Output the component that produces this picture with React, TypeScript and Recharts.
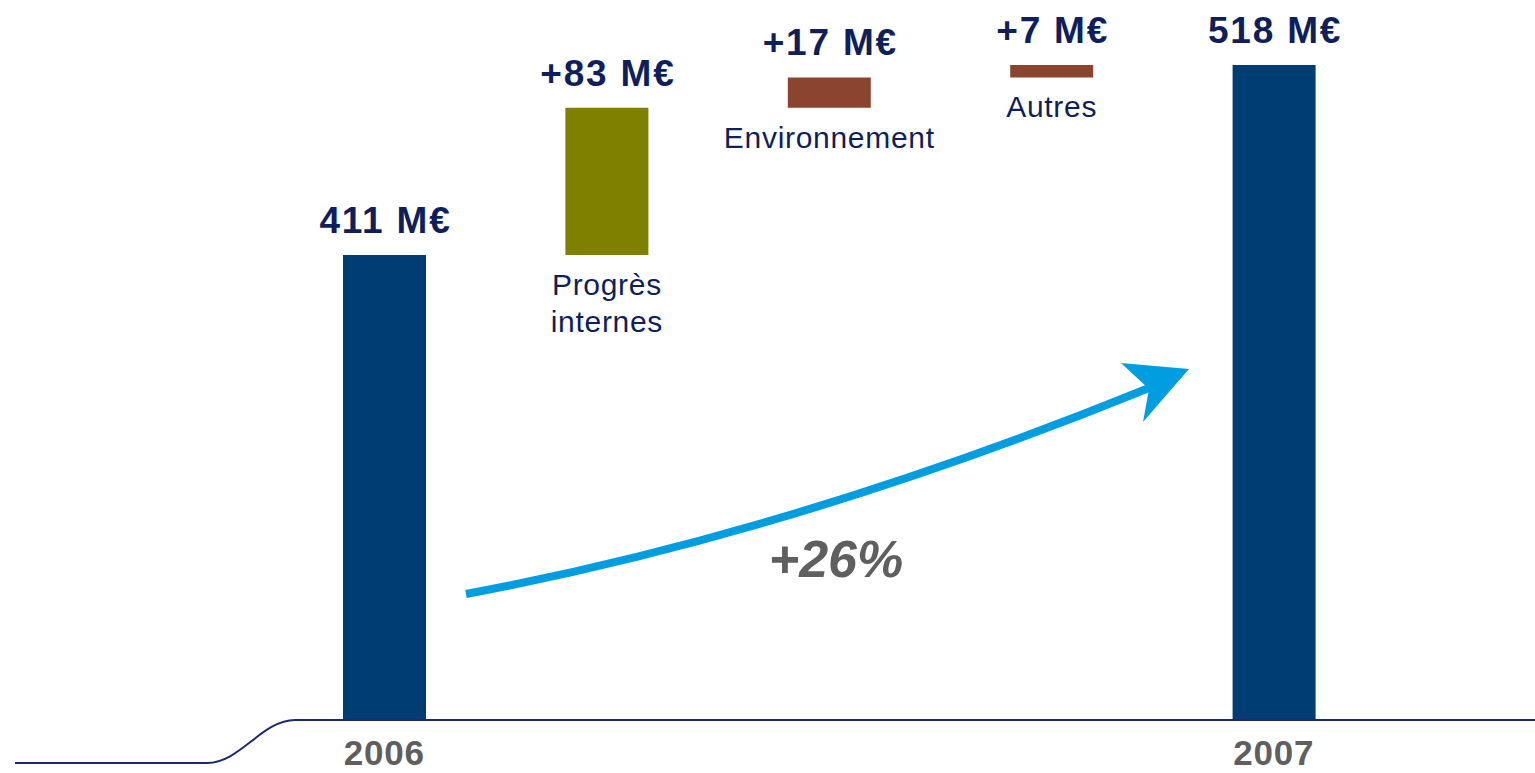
import React from 'react';
import { BarChart, Bar, Cell, XAxis, YAxis, LabelList } from 'recharts';

// waterfall: 2006 -> 2007
const categories = ['2006', 'Progrès internes', 'Environnement', 'Autres', '2007'];
const starts = [0, 411, 494, 511, 0];
const ends = [411, 494, 511, 518, 518];
const valueLabels = ['411 M€', '+83 M€', '+17 M€', '+7 M€', '518 M€'];
const nameLines = [[], ['Progrès', 'internes'], ['Environnement'], ['Autres'], []];
const tickLabels = ['2006', '', '', '', '2007'];
const barColors = ['#003D73', '#808000', '#8A4430', '#8A4430', '#003D73'];
const growthLabel = '+26%';

const W = 1535;
const H = 773;
const FONT = '"Liberation Sans", Arial, sans-serif';
const NAVY_TEXT = '#0E1F5B';
const GRAY = '#5F5F5F';

const data = categories.map((name, i) => ({
  name,
  range: [starts[i], ends[i]],
  label: valueLabels[i],
}));

const ValueLabel = (props: any) => {
  const { x, y, width, index } = props;
  return (
    <text
      x={x + width / 2 + 1}
      y={y - 22}
      textAnchor="middle"
      fontFamily={FONT}
      fontWeight="bold"
      fontSize={37}
      letterSpacing={1.8}
      fill={NAVY_TEXT}
    >
      {valueLabels[index]}
    </text>
  );
};

const NameLabel = (props: any) => {
  const { x, y, width, height, index } = props;
  const lines = nameLines[index] || [];
  if (!lines.length) return null;
  return (
    <text
      x={x + width / 2}
      y={y + height + 40}
      textAnchor="middle"
      fontFamily={FONT}
      fontSize={30}
      letterSpacing={0.7}
      fill={NAVY_TEXT}
    >
      {lines.map((l: string, i: number) => (
        <tspan key={i} x={x + width / 2} dy={i === 0 ? 0 : 37}>
          {l}
        </tspan>
      ))}
    </text>
  );
};

const YearTick = (props: any) => {
  const { x, y, index } = props;
  const t = tickLabels[index];
  if (!t) return null;
  return (
    <text
      x={x}
      y={y + 45}
      textAnchor="middle"
      fontFamily={FONT}
      fontWeight="bold"
      fontSize={35}
      letterSpacing={0.8}
      fill={GRAY}
    >
      {t}
    </text>
  );
};

export default function App() {
  return (
    <div style={{ position: 'relative', width: W, height: H, background: '#fff' }}>
      <style>{'body{margin:0}'}</style>
      <BarChart
        width={W}
        height={H}
        data={data}
        margin={{ top: 26, right: 150, left: 273, bottom: 0 }}
      >
        <XAxis
          dataKey="name"
          axisLine={false}
          tickLine={false}
          tickSize={0}
          tickMargin={0}
          height={53}
          interval={0}
          tick={<YearTick />}
        />
        <YAxis hide domain={[149, 540]} allowDataOverflow />
        <Bar dataKey="range" barSize={83} isAnimationActive={false}>
          {data.map((d, i) => (
            <Cell key={d.name} fill={barColors[i]} />
          ))}
          <LabelList dataKey="label" content={<ValueLabel />} />
          <LabelList dataKey="name" content={<NameLabel />} />
        </Bar>
      </BarChart>
      {/* decorative baseline and growth arrow */}
      <svg
        width={W}
        height={H}
        style={{ position: 'absolute', left: 0, top: 0, pointerEvents: 'none' }}
      >
        <path
          d="M15,763 L207,763 C240,763 262,720 295,720 L1535,720"
          fill="none"
          stroke="#1B2A6B"
          strokeWidth={2}
        />
        <path
          d="M466,594 Q792,533 1149,388"
          fill="none"
          stroke="#009EE0"
          strokeWidth={8}
        />
        <path d="M1121,363 L1189,369 L1143,422 L1149,389 Z" fill="#009EE0" />
        <text
          x={836}
          y={577}
          textAnchor="middle"
          fontFamily={FONT}
          fontWeight="bold"
          fontStyle="italic"
          fontSize={52}
          fill={GRAY}
        >
          {growthLabel}
        </text>
      </svg>
    </div>
  );
}
